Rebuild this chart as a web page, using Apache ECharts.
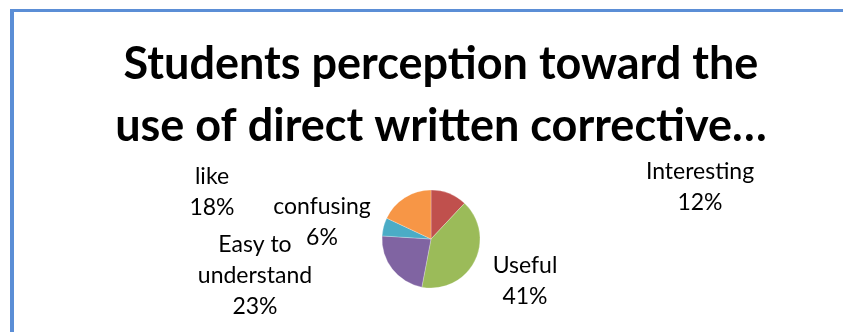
<!DOCTYPE html>
<html>
<head>
<meta charset="utf-8" />
<title>Students perception</title>
<style>
  html, body { margin: 0; padding: 0; background: #fff; }
  #chart { width: 843px; height: 332px; }
</style>
</head>
<body>
<div id="chart"></div>
<script src="https://cdn.jsdelivr.net/npm/echarts@6/dist/echarts.min.js"></script>
<script>
// data
const categories = ['Interesting', 'Useful', 'Easy to\nunderstand', 'confusing', 'like'];
const percents = [12, 41, 23, 6, 18];
const colors = ['#C0504D', '#9BBB59', '#8064A2', '#4BACC6', '#F79646'];
// label centres (Excel "best fit" spots)
const labelSpots = [[700, 187], [525, 281], [255, 276], [322, 222], [212, 192]];

const chart = echarts.init(document.getElementById('chart'));

chart.setOption({
  animation: false,
  title: {
    text: 'Students perception toward the\nuse of direct written corrective…',
    left: 436,
    top: 28,
    textAlign: 'center',
    textStyle: {
      fontFamily: 'Lato',
      fontWeight: 'bold',
      fontSize: 45,
      lineHeight: 62,
      color: '#000'
    }
  },
  graphic: [
    { type: 'rect', shape: { x: 10, y: 9, width: 4, height: 330 }, style: { fill: '#5B8ED6' } },
    { type: 'rect', shape: { x: 10, y: 9, width: 840, height: 3 }, style: { fill: '#5B8ED6' } }
  ],
  series: [{
    type: 'pie',
    center: [431, 239],
    radius: 49,
    startAngle: 90,
    clockwise: true,
    data: categories.map(function (name, i) {
      return { name: name, value: percents[i], itemStyle: { color: colors[i] } };
    }),
    itemStyle: { borderColor: 'rgba(255,255,255,0.5)', borderWidth: 0.5 },
    label: {
      show: true,
      formatter: '{b}\n{c}%',
      fontFamily: 'Lato',
      fontSize: 23,
      lineHeight: 31,
      color: '#000',
      align: 'center',
      verticalAlign: 'middle'
    },
    labelLine: { show: false },
    labelLayout: function (params) {
      const p = labelSpots[params.dataIndex];
      return { x: p[0], y: p[1], align: 'center', verticalAlign: 'middle' };
    },
    emphasis: { disabled: true }
  }]
});
</script>
</body>
</html>
